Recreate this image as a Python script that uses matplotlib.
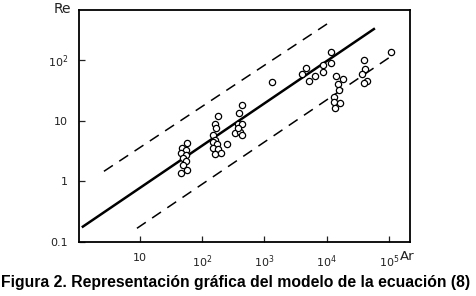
import numpy as np
import matplotlib.pyplot as plt

# Data (Ar, Re)
ar_pts = [56, 47, 55, 46, 54, 50, 55, 49, 56, 45,
          181, 160, 164, 151, 160, 151, 171, 147, 181, 160, 198, 247,
          440, 394, 379, 431, 336, 404, 431, 371,
          1334,
          4645, 3963, 5190, 6470, 8600, 8600, 11560, 11700,
          14090, 18040, 15000, 15560, 13090, 13090, 16330, 13580,
          40100, 41100, 36400, 44800, 39600,
          110000]
re_pts = [4.3, 3.6, 3.3, 2.9, 2.7, 2.4, 2.2, 1.85, 1.57, 1.38,
          11.9, 9.0, 7.5, 5.9, 4.8, 4.4, 4.1, 3.5, 3.4, 2.8, 2.9, 4.2,
          18.1, 13.5, 9.0, 8.8, 6.2, 6.6, 5.8, 7.5,
          43.8,
          74.6, 58, 45.5, 55, 82.6, 64, 134, 88,
          55, 48.5, 40.2, 32, 24.8, 20.5, 19.3, 16,
          100, 71, 58, 45.5, 41.3,
          137]

# model line and upper / lower limits (end points)
model_ar = [1.21, 57400]
model_re = [0.18, 325]
upper_ar = [2.64, 11270]
upper_re = [1.47, 424]
lower_ar = [8.95, 115900]
lower_re = [0.169, 121]

xticks = [10, 1e2, 1e3, 1e4, 1e5]
xlabels = ['10', r'$10^2$', r'$10^3$', r'$10^4$', r'$10^5$']
yticks = [0.1, 1, 10, 1e2]
ylabels = ['0.1', '1', '10', r'$10^2$']

fig = plt.figure(figsize=(4.76, 2.96), dpi=100)
ax = fig.add_axes([0.166, 0.182, 0.695, 0.784])
ax.set_xscale('log')
ax.set_yscale('log')
ax.set_xlim(1.05, 217000)
ax.set_ylim(0.1, 668)

ax.plot(model_ar, model_re, color='black', lw=1.8)
ax.plot(upper_ar, upper_re, color='black', lw=1.1, dashes=(7, 5))
ax.plot(lower_ar, lower_re, color='black', lw=1.1, dashes=(7, 5))
ax.plot(ar_pts, re_pts, 'o', mfc='white', mec='black', ms=4.5, mew=0.9)

ax.set_xticks(xticks)
ax.set_xticklabels(xlabels)
ax.set_yticks(yticks)
ax.set_yticklabels(ylabels)
ax.minorticks_off()
ax.tick_params(direction='in', length=4, width=0.9, labelsize=8, colors='#222222', pad=8)
for s in ax.spines.values():
    s.set_linewidth(1.3)

fig.text(62 / 476, 1 - 9 / 296, 'Re', fontsize=10, ha='center', va='center', color='#222222')
fig.text(407 / 476, 1 - 256 / 296, 'Ar', fontsize=9.5, ha='center', va='center', color='#222222')
fig.text(236 / 476, 1 - 283 / 296, 'Figura 2. Representación gráfica del modelo de la ecuación (8)',
         fontsize=11.3, fontweight='bold', family='Liberation Sans', ha='center', va='center')

fig.savefig('out.png', dpi=100)
